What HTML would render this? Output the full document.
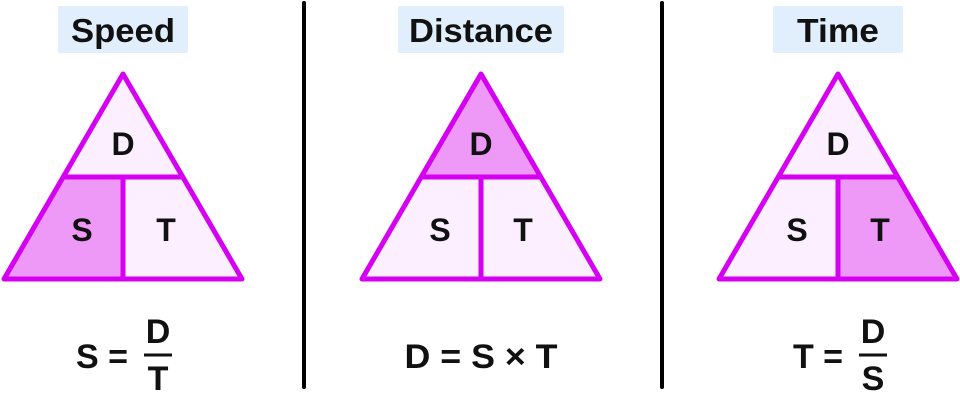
<!DOCTYPE html>
<html><head><style>
body{margin:0;background:#fff;width:960px;height:402px;overflow:hidden}
svg text{font-family:"Liberation Sans",sans-serif;font-weight:bold;fill:#111}
</style></head><body>
<svg width="960" height="402" viewBox="0 0 960 402">
<g id="labels">
<rect x="58" y="6" width="130" height="47" fill="#e1effd" rx="2"/>
<text x="123" y="42" font-size="33" text-anchor="middle" textLength="104" lengthAdjust="spacingAndGlyphs">Speed</text>
<rect x="398" y="6" width="166" height="47" fill="#e1effd" rx="2"/>
<text x="481" y="42" font-size="33" text-anchor="middle" textLength="144" lengthAdjust="spacingAndGlyphs">Distance</text>
<rect x="773" y="6" width="130" height="47" fill="#e1effd" rx="2"/>
<text x="838" y="42" font-size="33" text-anchor="middle" textLength="82" lengthAdjust="spacingAndGlyphs">Time</text>
</g>
<line x1="304" y1="3" x2="304" y2="387" stroke="#000" stroke-width="4" stroke-linecap="round"/>
<line x1="662" y1="3" x2="662" y2="387" stroke="#000" stroke-width="4" stroke-linecap="round"/>
<g transform="translate(123,0)">
<polygon points="0,74 -59,177 59,177" fill="#fcefff"/>
<polygon points="-59,177 0,177 0,279 -119,279" fill="#ee99f8"/>
<polygon points="0,177 59,177 119,279 0,279" fill="#fcefff"/>
</g>
<g transform="translate(481,0)">
<polygon points="0,74 -59,177 59,177" fill="#ee99f8"/>
<polygon points="-59,177 0,177 0,279 -119,279" fill="#fcefff"/>
<polygon points="0,177 59,177 119,279 0,279" fill="#fcefff"/>
</g>
<g transform="translate(838,0)">
<polygon points="0,74 -59,177 59,177" fill="#fcefff"/>
<polygon points="-59,177 0,177 0,279 -119,279" fill="#fcefff"/>
<polygon points="0,177 59,177 119,279 0,279" fill="#ee99f8"/>
</g>
<g fill="none" stroke="#d500f2" stroke-width="5" stroke-linejoin="round">
<g transform="translate(123,0)"><polygon points="0,74 -119,279 119,279"/><line x1="-59" y1="177" x2="59" y2="177"/><line x1="0" y1="177" x2="0" y2="279"/></g>
<g transform="translate(481,0)"><polygon points="0,74 -119,279 119,279"/><line x1="-59" y1="177" x2="59" y2="177"/><line x1="0" y1="177" x2="0" y2="279"/></g>
<g transform="translate(838,0)"><polygon points="0,74 -119,279 119,279"/><line x1="-59" y1="177" x2="59" y2="177"/><line x1="0" y1="177" x2="0" y2="279"/></g>
</g>
<g font-size="32" text-anchor="middle">
<text x="123" y="155">D</text><text x="82" y="241">S</text><text x="166" y="241">T</text>
<text x="481" y="155">D</text><text x="440" y="241">S</text><text x="523" y="241">T</text>
<text x="838" y="155">D</text><text x="797" y="241">S</text><text x="880" y="241">T</text>
</g>
<g font-size="34" text-anchor="middle">
<text x="102" y="368">S =</text>
<text x="158" y="343">D</text><line x1="144" y1="355" x2="172" y2="355" stroke="#111" stroke-width="3"/><text x="158" y="390">T</text>
<text x="481" y="368" textLength="153" lengthAdjust="spacingAndGlyphs">D = S × T</text>
<text x="818" y="368">T =</text>
<text x="873" y="343">D</text><line x1="859" y1="355" x2="887" y2="355" stroke="#111" stroke-width="3"/><text x="873" y="390">S</text>
</g>
</svg>
</body></html>
